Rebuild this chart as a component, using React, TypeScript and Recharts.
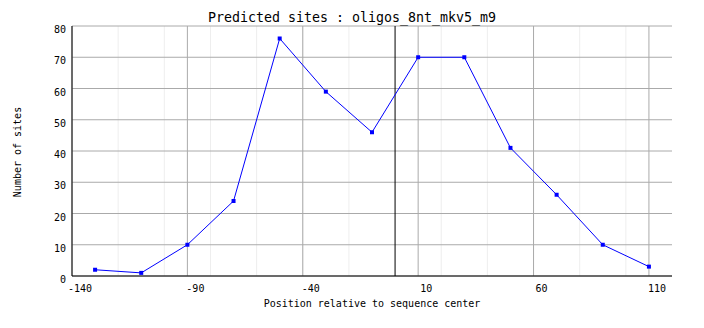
import React from "react";
import { LineChart, Line, XAxis, YAxis, CartesianGrid, ReferenceLine } from "recharts";

const positions = [-130, -110, -90, -70, -50, -30, -10, 10, 30, 50, 70, 90, 110];
const sites = [2, 1, 10, 24, 76, 59, 46, 70, 70, 41, 26, 10, 3];
const xTicks = [-140, -90, -40, 10, 60, 110];
const xMinorTicks = [-120, -100, -80, -60, -40, -20, 20, 40, 60, 80, 100];
const yTicks = [0, 10, 20, 30, 40, 50, 60, 70, 80];

const data = positions.map((p, i) => ({ pos: p, sites: sites[i] }));

const FONT = "'DejaVu Sans Mono', monospace";

const XTick = (props: any) => {
  const { x, y, payload } = props;
  return (
    <text x={x + 8} y={y + 16} textAnchor="middle" fontFamily={FONT} fontSize={10} fill="#000">
      {payload.value}
    </text>
  );
};

const YTick = (props: any) => {
  const { x, y, payload } = props;
  return (
    <text x={x} y={y + 7} textAnchor="end" fontFamily={FONT} fontSize={10} fill="#000">
      {payload.value}
    </text>
  );
};

const SquareDot = (props: any) => {
  const { cx, cy } = props;
  if (cx == null || cy == null) return null;
  return <rect x={cx - 2} y={cy - 2} width={4} height={4} fill="#0000ff" />;
};

export default function App() {
  return (
    <div style={{ position: "absolute", left: 0, top: 0, width: 704, height: 328, background: "#fff" }}>
      <LineChart
        width={704}
        height={328}
        data={data}
        margin={{ top: 26, right: 32, left: 0, bottom: 0 }}
      >
        <CartesianGrid xAxisId="minor" horizontal={false} syncWithTicks stroke="#eeeeee" />
        <CartesianGrid syncWithTicks stroke="#aaaaaa" />
        <XAxis
          xAxisId="minor"
          dataKey="pos"
          type="number"
          domain={[-140, 120]}
          ticks={xMinorTicks}
          hide
        />
        <XAxis
          dataKey="pos"
          type="number"
          domain={[-140, 120]}
          ticks={xTicks}
          interval={0}
          height={52}
          axisLine={{ stroke: "#000" }}
          tickLine={false}
          tickSize={0}
          tickMargin={0}
          tick={<XTick />}
        />
        <YAxis
          type="number"
          domain={[0, 80]}
          ticks={yTicks}
          interval={0}
          width={72}
          axisLine={{ stroke: "#000" }}
          tickLine={false}
          tickSize={0}
          tickMargin={6}
          tick={<YTick />}
        />
        <ReferenceLine x={0} stroke="#000" strokeWidth={1} />
        <Line
          type="linear"
          dataKey="sites"
          stroke="#0000ff"
          strokeWidth={1}
          dot={<SquareDot />}
          activeDot={false}
          isAnimationActive={false}
        />
      </LineChart>
      <svg
        width={704}
        height={328}
        style={{ position: "absolute", left: 0, top: 0, pointerEvents: "none" }}
      >
        <text x={352} y={22} textAnchor="middle" fontFamily={FONT} fontSize={13.3} fill="#000">
          Predicted sites : oligos_8nt_mkv5_m9
        </text>
        <text x={372} y={307} textAnchor="middle" fontFamily={FONT} fontSize={10} fill="#000">
          Position relative to sequence center
        </text>
        <text
          x={21}
          y={152}
          textAnchor="middle"
          fontFamily={FONT}
          fontSize={10}
          fill="#000"
          transform="rotate(-90 21 152)"
        >
          Number of sites
        </text>
      </svg>
    </div>
  );
}
